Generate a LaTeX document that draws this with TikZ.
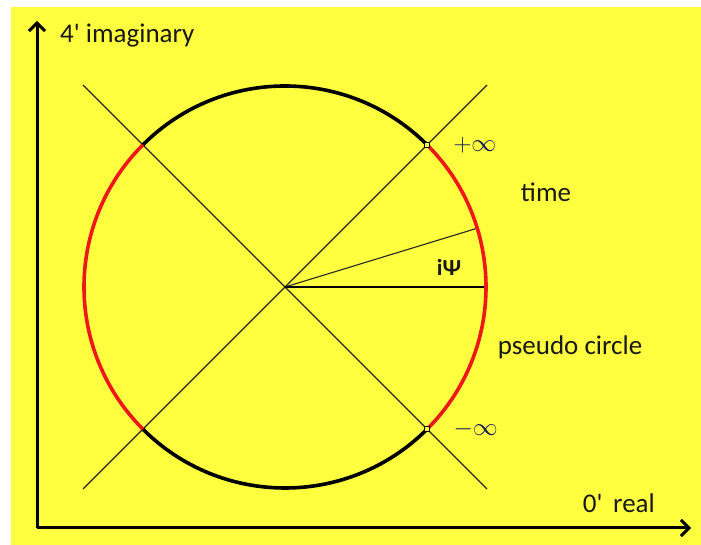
\documentclass[tikz,border=0pt]{standalone}
\usepackage{fontspec}
\setmainfont{Carlito}
\usepackage{tikz}
\usetikzlibrary{arrows.meta,positioning,calc}
\definecolor{bgyellow}{RGB}{255,255,64}
\definecolor{arcred}{RGB}{238,24,24}
\definecolor{infblue}{RGB}{16,24,90}

\begin{document}
\begin{tikzpicture}[x=1pt,y=1pt,
    axisline/.style={line width=3pt,-{Straight Barb[length=8pt,width=16pt,line width=3pt]}},
    guide/.style={line width=1.1pt,black!85},
    arcline/.style={line width=3.6pt},
    lbl/.style={font=\fontsize{27}{32}\selectfont,inner sep=0pt,text=black!90},
    inflbl/.style={text=infblue,inner sep=0pt,font=\fontsize{23}{27}\selectfont},
    infmark/.style={draw,line width=1pt,fill=bgyellow,minimum size=5.5pt,inner sep=0pt}]
    % background
    \fill[white] (0,0) rectangle (701,545);
    \fill[bgyellow] (11,0) rectangle (701,538);
    \useasboundingbox (0,0) rectangle (701,545);
    % axes
    \coordinate (origin) at (37,17);
    \coordinate (imtop) at (37,524);
    \coordinate (reend) at (691,17);
    \draw[axisline] (origin) -- (imtop);
    \draw[axisline] (origin) -- (reend);
    % circle centre and guide lines
    \def\rad{201}
    \coordinate (centre) at (285,258);
    \coordinate (ne) at ($(centre)+(202,202)$);
    \coordinate (nw) at ($(centre)+(-202,202)$);
    \coordinate (se) at ($(centre)+(202,-202)$);
    \coordinate (sw) at ($(centre)+(-202,-202)$);
    \draw[guide] (sw) -- (ne);
    \draw[guide] (nw) -- (se);
    \coordinate (psi) at ($(centre)+(17:\rad)$);
    \coordinate (zero) at ($(centre)+(0:\rad)$);
    \draw[guide] (centre) -- (psi);
    \draw[line width=2.4pt] (centre) -- (zero);
    % arcs
    \draw[arcline] (centre) ++(45:\rad) arc[start angle=45,end angle=135,radius=\rad];
    \draw[arcline] (centre) ++(225:\rad) arc[start angle=225,end angle=315,radius=\rad];
    \draw[arcline,arcred] (centre) ++(135:\rad) arc[start angle=135,end angle=225,radius=\rad];
    \draw[arcline,arcred] (centre) ++(-45:\rad) arc[start angle=-45,end angle=45,radius=\rad];
    % marks at infinity
    \node[infmark] (plusinf) at ($(centre)+(45:\rad)$) {};
    \node[infmark] (minusinf) at ($(centre)+(-45:\rad)$) {};
    % labels
    \node[lbl,anchor=west] (imaglbl) at (60,509) {4\textquotesingle\ imaginary};
    \node[lbl,anchor=east] (reallbl) at (655,42) {0\textquotesingle\,\ real};
    \node[lbl,font=\fontsize{23}{27}\selectfont\bfseries] (psilbl) at (449,278) {iΨ};
    \node[inflbl,right=23pt of plusinf] (plusinflbl) {$+\infty$};
    \node[inflbl,right=23pt of minusinf] (minusinflbl) {$-\infty$};
    \node[lbl] (timelbl) at (546,353) {time};
    \node[lbl] (pseudolbl) at (570,198) {pseudo circle};
\end{tikzpicture}
\end{document}
